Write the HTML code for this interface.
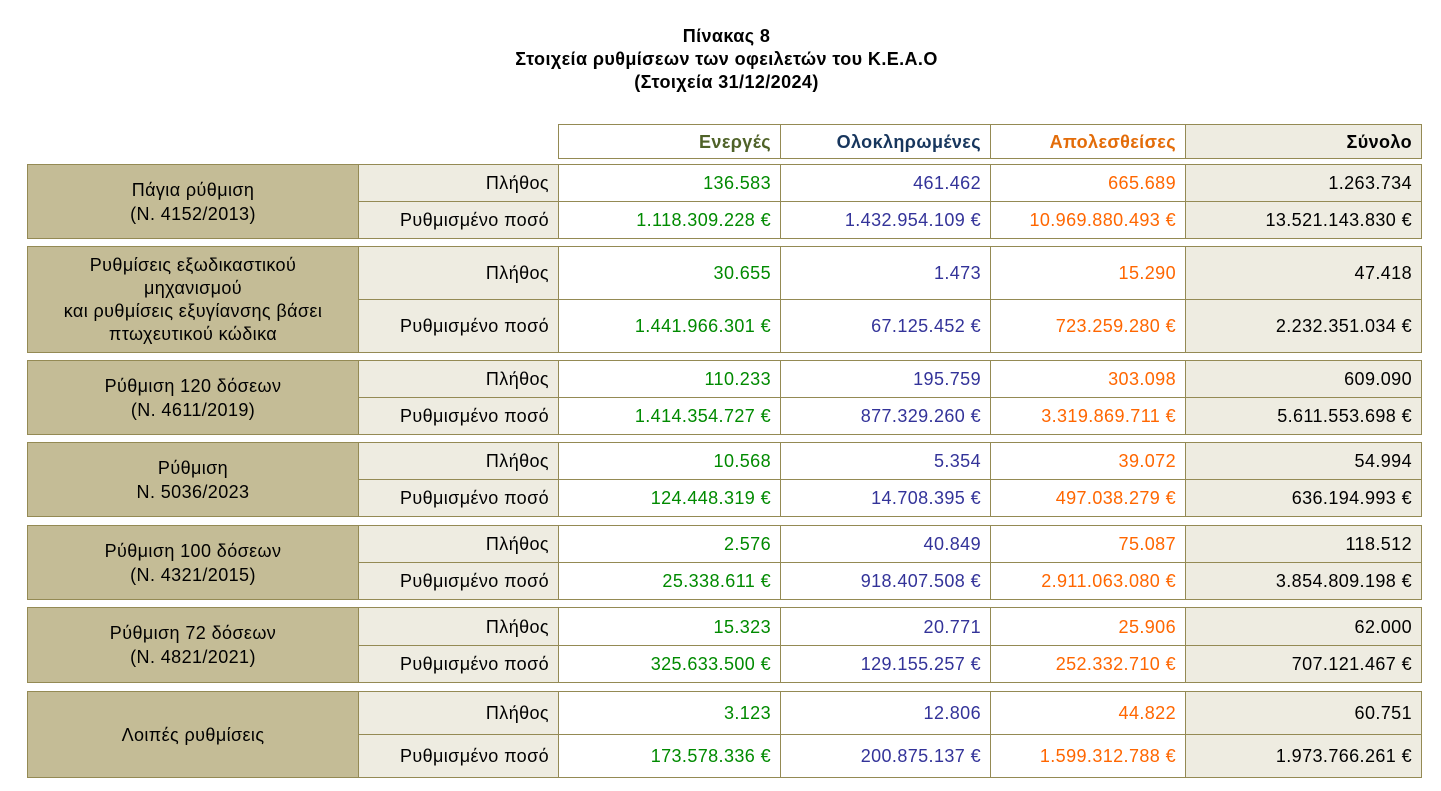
<!DOCTYPE html>
<html><head><meta charset="utf-8"><style>
body{margin:0;width:1441px;height:791px;background:#fff;position:relative;font-family:"Liberation Sans","DejaVu Sans",sans-serif;font-size:18px;letter-spacing:0.4px;color:#000;overflow:hidden}
.t{position:absolute;left:0;width:1441px;text-align:center;font-weight:bold;font-size:18px}
table{position:absolute;border-collapse:collapse;table-layout:fixed}
td{border:1px solid #948a54;padding:0 9px 0 0;text-align:right;white-space:nowrap;line-height:20px}
.n{background:#c4bc96;text-align:center;padding:0 4px;line-height:24px}
.l{background:#eeece1}
.s{background:#eeece1}
.g{color:#008a00}.b{color:#333399}.o{color:#ff6600}
.h td{font-weight:bold}
</style></head><body>
<div class="t" style="top:26px;left:6px">Πίνακας 8</div>
<div class="t" style="top:49px;left:6px">Στοιχεία ρυθμίσεων των οφειλετών του Κ.Ε.Α.Ο</div>
<div class="t" style="top:72px;left:6px">(Στοιχεία 31/12/2024)</div>

<table class="h" style="left:558px;top:124px;width:863px">
<colgroup><col style="width:222px"><col style="width:210px"><col style="width:195px"><col style="width:236px"></colgroup>
<tr style="height:34px"><td style="color:#4f6228">Ενεργές</td><td style="color:#17365d">Ολοκληρωμένες</td><td style="color:#e36c09">Απολεσθείσες</td><td class="s">Σύνολο</td></tr>
</table>

<table style="left:27px;top:164px;width:1394px">
<colgroup><col style="width:331px"><col style="width:200px"><col style="width:222px"><col style="width:210px"><col style="width:195px"><col style="width:236px"></colgroup>
<tr style="height:37px"><td class="n" rowspan="2">Πάγια ρύθμιση<br>(Ν. 4152/2013)</td><td class="l">Πλήθος</td><td class="g">136.583</td><td class="b">461.462</td><td class="o">665.689</td><td class="s">1.263.734</td></tr>
<tr style="height:37px"><td class="l">Ρυθμισμένο ποσό</td><td class="g">1.118.309.228 €</td><td class="b">1.432.954.109 €</td><td class="o">10.969.880.493 €</td><td class="s">13.521.143.830 €</td></tr>
</table>

<table style="left:27px;top:246px;width:1394px">
<colgroup><col style="width:331px"><col style="width:200px"><col style="width:222px"><col style="width:210px"><col style="width:195px"><col style="width:236px"></colgroup>
<tr style="height:53px"><td class="n" rowspan="2" style="line-height:23px">Ρυθμίσεις εξωδικαστικού<br>μηχανισμού<br>και ρυθμίσεις εξυγίανσης βάσει<br>πτωχευτικού κώδικα</td><td class="l">Πλήθος</td><td class="g">30.655</td><td class="b">1.473</td><td class="o">15.290</td><td class="s">47.418</td></tr>
<tr style="height:53px"><td class="l">Ρυθμισμένο ποσό</td><td class="g">1.441.966.301 €</td><td class="b">67.125.452 €</td><td class="o">723.259.280 €</td><td class="s">2.232.351.034 €</td></tr>
</table>

<table style="left:27px;top:360px;width:1394px">
<colgroup><col style="width:331px"><col style="width:200px"><col style="width:222px"><col style="width:210px"><col style="width:195px"><col style="width:236px"></colgroup>
<tr style="height:37px"><td class="n" rowspan="2">Ρύθμιση 120 δόσεων<br>(Ν. 4611/2019)</td><td class="l">Πλήθος</td><td class="g">110.233</td><td class="b">195.759</td><td class="o">303.098</td><td class="s">609.090</td></tr>
<tr style="height:37px"><td class="l">Ρυθμισμένο ποσό</td><td class="g">1.414.354.727 €</td><td class="b">877.329.260 €</td><td class="o">3.319.869.711 €</td><td class="s">5.611.553.698 €</td></tr>
</table>

<table style="left:27px;top:442px;width:1394px">
<colgroup><col style="width:331px"><col style="width:200px"><col style="width:222px"><col style="width:210px"><col style="width:195px"><col style="width:236px"></colgroup>
<tr style="height:37px"><td class="n" rowspan="2">Ρύθμιση<br>Ν. 5036/2023</td><td class="l">Πλήθος</td><td class="g">10.568</td><td class="b">5.354</td><td class="o">39.072</td><td class="s">54.994</td></tr>
<tr style="height:37px"><td class="l">Ρυθμισμένο ποσό</td><td class="g">124.448.319 €</td><td class="b">14.708.395 €</td><td class="o">497.038.279 €</td><td class="s">636.194.993 €</td></tr>
</table>

<table style="left:27px;top:525px;width:1394px">
<colgroup><col style="width:331px"><col style="width:200px"><col style="width:222px"><col style="width:210px"><col style="width:195px"><col style="width:236px"></colgroup>
<tr style="height:37px"><td class="n" rowspan="2">Ρύθμιση 100 δόσεων<br>(Ν. 4321/2015)</td><td class="l">Πλήθος</td><td class="g">2.576</td><td class="b">40.849</td><td class="o">75.087</td><td class="s">118.512</td></tr>
<tr style="height:37px"><td class="l">Ρυθμισμένο ποσό</td><td class="g">25.338.611 €</td><td class="b">918.407.508 €</td><td class="o">2.911.063.080 €</td><td class="s">3.854.809.198 €</td></tr>
</table>

<table style="left:27px;top:607px;width:1394px">
<colgroup><col style="width:331px"><col style="width:200px"><col style="width:222px"><col style="width:210px"><col style="width:195px"><col style="width:236px"></colgroup>
<tr style="height:38px"><td class="n" rowspan="2">Ρύθμιση 72 δόσεων<br>(Ν. 4821/2021)</td><td class="l">Πλήθος</td><td class="g">15.323</td><td class="b">20.771</td><td class="o">25.906</td><td class="s">62.000</td></tr>
<tr style="height:37px"><td class="l">Ρυθμισμένο ποσό</td><td class="g">325.633.500 €</td><td class="b">129.155.257 €</td><td class="o">252.332.710 €</td><td class="s">707.121.467 €</td></tr>
</table>

<table style="left:27px;top:691px;width:1394px">
<colgroup><col style="width:331px"><col style="width:200px"><col style="width:222px"><col style="width:210px"><col style="width:195px"><col style="width:236px"></colgroup>
<tr style="height:43px"><td class="n" rowspan="2">Λοιπές ρυθμίσεις</td><td class="l">Πλήθος</td><td class="g">3.123</td><td class="b">12.806</td><td class="o">44.822</td><td class="s">60.751</td></tr>
<tr style="height:43px"><td class="l">Ρυθμισμένο ποσό</td><td class="g">173.578.336 €</td><td class="b">200.875.137 €</td><td class="o">1.599.312.788 €</td><td class="s">1.973.766.261 €</td></tr>
</table>
</body></html>
